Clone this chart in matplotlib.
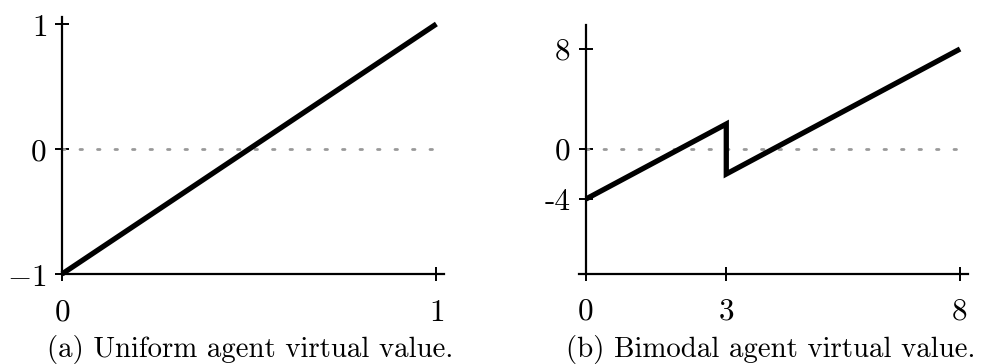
import matplotlib
matplotlib.use("Agg")
import matplotlib.pyplot as plt

plt.rcParams['mathtext.fontset'] = 'cm'
plt.rcParams['axes.unicode_minus'] = False

# Panel (a): uniform agent virtual value
uni_x = [0, 1]
uni_y = [-1, 1]
uni_xticks = [0, 1]
uni_xticklabels = [r"$0$", r"$1$"]
uni_yticks = [-1, 0, 1]
uni_yticklabels = [r"$-1$", r"$0$", r"$1$"]

# Panel (b): bimodal agent virtual value
bi_x = [0, 3, 3, 8]
bi_y = [-4, 2, -2, 8]
bi_xticks = [0, 3, 8]
bi_xticklabels = ["0", "3", "8"]
bi_yticks = [-4, 0, 8]
bi_yticklabels = ["-4", "0", "8"]

captions = ["(a) Uniform agent virtual value.", "(b) Bimodal agent virtual value."]

W, H = 982, 364
fig = plt.figure(figsize=(W / 100, H / 100), dpi=100)


def px_axes(x0, x1, y_bottom_px, y_top_px):
    return fig.add_axes([x0 / W, (H - y_bottom_px) / H, (x1 - x0) / W, (y_bottom_px - y_top_px) / H])


TICK_FS = 22.5
CAP_FS = 20.8


def style(ax, xlim, ylim):
    ax.set_xlim(*xlim)
    ax.set_ylim(*ylim)
    ax.patch.set_alpha(0)
    for s in ["top", "right"]:
        ax.spines[s].set_visible(False)
    ax.spines["left"].set_position(("data", 0))
    for s in ["left", "bottom"]:
        ax.spines[s].set_linewidth(1.6)
    ax.tick_params(direction="inout", length=10, width=1.4, labelsize=TICK_FS)
    ax.tick_params(axis="x", pad=12)
    ax.tick_params(axis="y", pad=6)


DOT = (0, (0.9, 5.4))

# Left panel
ax1 = px_axes(62, 443.5, 274, 17)
style(ax1, (0, 1.019), (-1, 1.056))
ax1.plot([0, 1], [0, 0], linestyle=DOT, color="#999999", linewidth=2.0, clip_on=False,
         dash_capstyle="round")
ax1.plot(uni_x, uni_y, color="black", linewidth=3.8, clip_on=False, solid_capstyle="butt")
ax1.set_xticks(uni_xticks)
ax1.set_xticklabels(uni_xticklabels)
ax1.set_yticks(uni_yticks)
ax1.set_yticklabels(uni_yticklabels)

# Right panel
ax2 = px_axes(579, 968, 274, 25)
style(ax2, (-0.15, 8.17), (-10, 9.92))
ax2.plot([0, 8], [0, 0], linestyle=DOT, color="#999999", linewidth=2.0, clip_on=False,
         dash_capstyle="round")
ax2.plot(bi_x, bi_y, color="black", linewidth=3.8, clip_on=False, solid_capstyle="butt",
         solid_joinstyle="miter")
ax2.set_xticks(bi_xticks)
ax2.set_xticklabels(bi_xticklabels, family="cmr10")
ax2.set_yticks(bi_yticks)
ax2.set_yticklabels(bi_yticklabels, family="cmr10")

fig.text(250 / W, 1 - 349 / H, captions[0], ha="center", va="center", family="cmr10", fontsize=CAP_FS)
fig.text(771 / W, 1 - 349 / H, captions[1], ha="center", va="center", family="cmr10", fontsize=CAP_FS)

fig.savefig("out.png", dpi=100)
